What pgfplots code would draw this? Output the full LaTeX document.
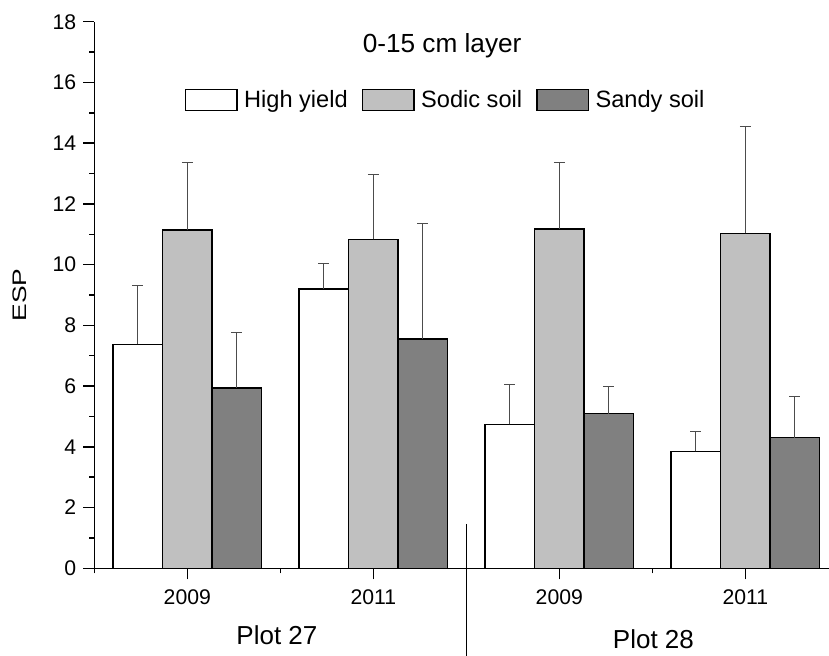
\documentclass[border=0pt]{standalone}
\usepackage{fontspec}
\setmainfont{Liberation Sans}
\usepackage{pgfplots}
\usepackage{pgfplotstable}
\pgfplotsset{compat=1.18}

\pgfplotstableread{
x w    we   g     ge   d    de
0 7.38 1.93 11.14 2.24 5.94 1.83
1 9.20 0.85 10.83 2.15 7.55 3.79
2 4.74 1.31 11.17 2.21 5.09 0.90
3 3.85 0.67 11.03 3.51 4.30 1.36
}\espdata

\definecolor{sodic}{HTML}{C0C0C0}
\definecolor{sandy}{HTML}{808080}

\begin{document}
\begin{tikzpicture}
\path[use as bounding box] (0,0) rectangle (414.5pt,327.5pt);
\begin{axis}[
    at={(47.15pt,43.35pt)}, anchor=south west,
    scale only axis,
    width=367.35pt, height=273.3pt,
    clip=false,
    ybar=0pt, bar width=24.75pt,
    xmin=-0.5, xmax=3.45,
    ymin=0, ymax=18,
    axis x line=bottom, axis y line=left,
    axis line style={-, line width=0.75pt},
    every tick/.style={line width=0.75pt, black},
    tick align=outside,
    major tick length=5.5pt, minor tick length=2.5pt,
    xtick={0,1,2,3}, xticklabels={2009,2011,2009,2011},
    minor xtick={-0.5,0.5,2.5},
    ytick={0,2,...,18}, minor y tick num=1,
    /pgf/number format/assume math mode=true,
    tick label style={font=\fontsize{10.6}{12}\selectfont},
    xticklabel style={yshift=-1.5pt},
    ylabel={\scalebox{1.35}[1]{ESP}},
    ylabel style={at={(axis description cs:-0.1018,0.5)}, anchor=center, font=\fontsize{9.8}{12}\selectfont},
    legend style={at={(axis cs:1.394,15.42)}, anchor=center, draw=none, fill=none,
        font=\fontsize{11.8}{14}\selectfont,
        /tikz/every even column/.append style={column sep=5pt}},
    legend columns=3,
    legend image code/.code={\draw[#1, line width=0.7pt] (0pt,-5.2pt) rectangle (25.7pt,5.2pt); \path (27pt,0pt);},
    error bars/error bar style={line width=0.5pt, draw=black!70},
    error bars/error mark options={line width=0.5pt, draw=black!70, mark size=2.75pt, rotate=90},
]
\addplot[fill=white, draw=black, line width=0.7pt,
    error bars/.cd, y dir=plus, y explicit]
    table[x=x, y=w, y error=we] {\espdata};
\addplot[fill=sodic, draw=black, line width=0.7pt,
    error bars/.cd, y dir=plus, y explicit]
    table[x=x, y=g, y error=ge] {\espdata};
\addplot[fill=sandy, draw=black, line width=0.7pt,
    error bars/.cd, y dir=plus, y explicit]
    table[x=x, y=d, y error=de] {\espdata};
\legend{High yield, Sodic soil, Sandy soil}

\node[anchor=base, font=\fontsize{13.1}{15}\selectfont] at (axis cs:1.37,16.98) {0-15 cm layer};
\node[anchor=base, font=\fontsize{13}{15}\selectfont] at (axis cs:0.482,-2.525) {Plot 27};
\node[anchor=base, font=\fontsize{13}{15}\selectfont] at (axis cs:2.506,-2.634) {Plot 28};
\draw[line width=0.6pt] (axis cs:1.5,1.46) -- (axis cs:1.5,-3.2);
\end{axis}
\end{tikzpicture}
\end{document}
